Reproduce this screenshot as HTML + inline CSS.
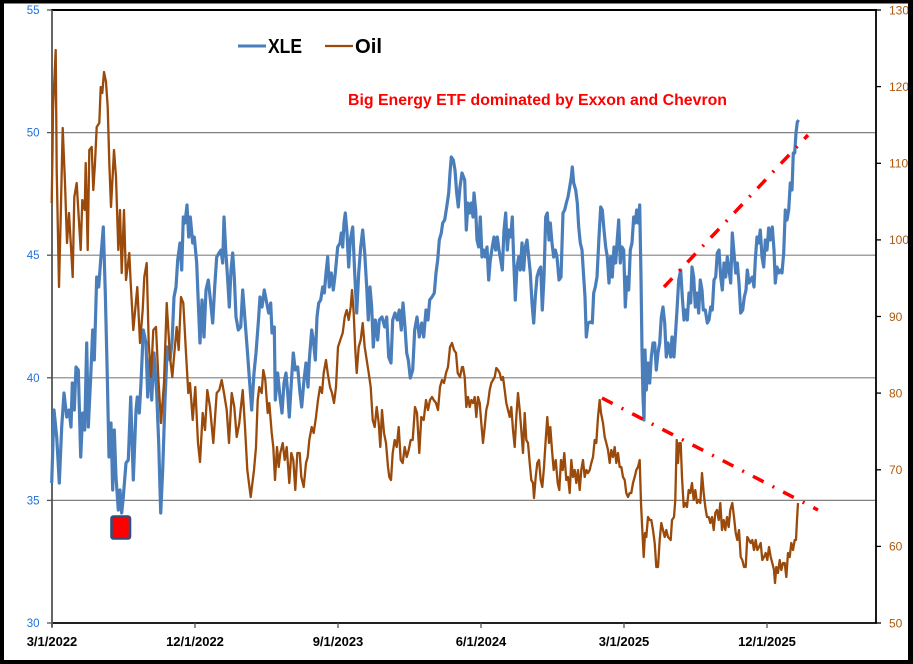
<!DOCTYPE html>
<html><head><meta charset="utf-8"><style>
html,body{margin:0;padding:0;background:#fff;}
svg{display:block;}
text{font-family:"Liberation Sans",Arial,sans-serif;}
</style></head><body>
<svg width="913" height="664" viewBox="0 0 913 664" xmlns="http://www.w3.org/2000/svg">
<rect x="0" y="0" width="913" height="664" fill="#fff"/>
<!-- gridlines -->
<g stroke="#808080" stroke-width="1.2">
<line x1="52" y1="132.6" x2="876" y2="132.6"/>
<line x1="52" y1="255.2" x2="876" y2="255.2"/>
<line x1="52" y1="377.8" x2="876" y2="377.8"/>
<line x1="52" y1="500.4" x2="876" y2="500.4"/>
</g>
<!-- plot frame -->
<line x1="51" y1="10" x2="877" y2="10" stroke="#000" stroke-width="2"/>
<line x1="876" y1="10" x2="876" y2="623" stroke="#000" stroke-width="1.8"/>
<line x1="51" y1="623" x2="877" y2="623" stroke="#000" stroke-width="1.8"/>
<line x1="52" y1="10" x2="52" y2="627" stroke="#555" stroke-width="1.8"/>
<!-- left ticks -->
<g stroke="#555" stroke-width="1.3">
<line x1="47" y1="10" x2="52" y2="10"/><line x1="47" y1="132.6" x2="52" y2="132.6"/>
<line x1="47" y1="255.2" x2="52" y2="255.2"/><line x1="47" y1="377.8" x2="52" y2="377.8"/>
<line x1="47" y1="500.4" x2="52" y2="500.4"/><line x1="47" y1="623" x2="52" y2="623"/>
</g>
<!-- right ticks -->
<g stroke="#000" stroke-width="1.3">
<line x1="876" y1="10" x2="881" y2="10"/><line x1="876" y1="86.6" x2="881" y2="86.6"/>
<line x1="876" y1="163.3" x2="881" y2="163.3"/><line x1="876" y1="239.9" x2="881" y2="239.9"/>
<line x1="876" y1="316.5" x2="881" y2="316.5"/><line x1="876" y1="393.1" x2="881" y2="393.1"/>
<line x1="876" y1="469.8" x2="881" y2="469.8"/><line x1="876" y1="546.4" x2="881" y2="546.4"/>
<line x1="876" y1="623" x2="881" y2="623"/>
</g>
<!-- bottom ticks -->
<g stroke="#555" stroke-width="1.3">
<line x1="52" y1="623" x2="52" y2="628"/><line x1="195" y1="623" x2="195" y2="628"/>
<line x1="338" y1="623" x2="338" y2="628"/><line x1="481" y1="623" x2="481" y2="628"/>
<line x1="624" y1="623" x2="624" y2="628"/><line x1="767" y1="623" x2="767" y2="628"/>
</g>
<!-- left labels -->
<g fill="#1e6ed8" font-size="11.5" text-anchor="end">
<text x="39.5" y="14">55</text><text x="39.5" y="136.6">50</text>
<text x="39.5" y="259.2">45</text><text x="39.5" y="381.8">40</text>
<text x="39.5" y="504.4">35</text><text x="39.5" y="627">30</text>
</g>
<!-- right labels -->
<g fill="#b0580a" font-size="12">
<text x="889" y="14.3">130</text><text x="889" y="90.9">120</text>
<text x="889" y="167.6">110</text><text x="889" y="244.2">100</text>
<text x="889" y="320.8">90</text><text x="889" y="397.4">80</text>
<text x="889" y="474.1">70</text><text x="889" y="550.7">60</text>
<text x="889" y="627.3">50</text>
</g>
<!-- x labels -->
<g fill="#000" font-size="13" font-weight="bold" text-anchor="middle">
<text x="52" y="646">3/1/2022</text><text x="195" y="646">12/1/2022</text>
<text x="338" y="646">9/1/2023</text><text x="481" y="646">6/1/2024</text>
<text x="624" y="646">3/1/2025</text><text x="767" y="646">12/1/2025</text>
</g>
<!-- XLE -->
<polyline fill="none" stroke="#4a7ebb" stroke-width="3.2" stroke-linejoin="round" points="51.7,483 54,410 56.7,437 59.3,483 61.7,427 64,393 66.7,417 69,410 71,427 72.3,383 74.3,410 76,367 78.3,370 80.7,457 82.7,413 84.7,430 86.7,343 88.3,427 90.7,377 92.7,330 94.3,360 96.7,277 98.7,287 100.7,260 103.3,227 105.3,293 107.3,377 109,457 111,423 112.7,490 114.3,430 116,477 118.3,510 120,490 121.7,513 123.3,497 126,463 128.3,460 130.7,397 133.3,480 136,410 137.3,397 139.3,413 141,383 143.3,330 146,343 147.7,397 150,357 151.7,400 154,353 156.7,393 158.7,443 160.7,513 162.7,470 165,400 167.3,347 170,360 172,343 174,297 176,287 177.7,260 180,243 181.7,270 183.3,217 185,223 187,205 188.7,237 190.3,217 192.7,243 194.3,237 196.7,263 198.3,303 200,343 202,300 204,337 206,290 208.3,280 210.7,303 212.7,323 214.7,287 216.7,257 219,253 221,250 222.7,263 224,217 225.7,250 227.7,280 229.3,307 231,270 232.7,253 234.3,277 236,317 238.3,330 240.7,327 242.7,290 245,320 247.3,350 250,387 251.7,410 254,373 256,353 258.7,317 260,297 262,307 264.3,290 266.7,303 268.7,313 270.7,303 272,333 274.3,327 275.3,400 277.7,373 280,397 282,413 284,383 286,373 287.7,393 289.3,417 291.3,383 293.3,353 295.3,370 297.7,367 300,393 301.7,407 304,380 306,363 308,387 309.3,360 311.7,330 313.3,340 315.3,360 317,317 318.7,303 320.7,300 322.7,287 324.3,293 326,273 327.7,257 329.3,287 331.3,273 333.3,290 335.3,273 337.7,247 340,243 341.3,233 342.7,247 344,223 345.3,213 347,233 348.7,267 350.3,240 352.7,227 354.7,273 356.7,313 358.7,273 360.7,247 362.7,230 364.7,253 366.7,287 368.3,320 370,287 371.7,307 373.3,347 375.3,320 377.7,340 379.3,320 382,317 384.7,327 386.7,317 388.7,357 391,363 392.7,320 395,313 397.3,320 399.3,310 401.3,330 403,303 405,327 406.7,353 408.3,360 410.3,378 412.7,370 414.7,330 417,317 419.3,337 421.7,323 423.7,337 426,310 428,320 429.7,300 432,297 434.3,293 436,273 437.7,260 439.3,240 441.3,233 442.7,223 444.7,220 446.7,207 448.7,193 450,173 451.3,157 453.3,160 455,170 456.7,193 458.3,207 460,187 462,173 464.7,180 466.3,230 468,203 469.7,213 471.3,203 473,217 474,193 475.7,210 477,240 478.7,247 480.3,217 482,257 483.7,250 485.3,257 487,247 488.7,280 490.3,260 492.3,247 494,237 495.7,250 497.3,237 499,250 500.7,260 502.3,270 504,230 505.7,213 507.3,250 509,230 510.7,237 512.3,217 513.7,260 515.3,300 517,267 518.7,257 520.3,270 522,243 523.7,270 525.3,247 527,240 528.7,257 530.3,273 532,303 533.7,323 535.3,297 537,277 539,270 540.7,267 542.3,310 544,277 545.7,217 547.3,213 549,240 550.3,223 552,243 553.7,257 555.3,250 557,257 559,280 561,277 563,213 564.7,210 566.3,203 568,197 569.7,187 571.3,177 572.3,167 573.7,183 575.7,190 577.3,203 578.7,227 580.3,243 582,250 583.7,277 585,297 586.3,337 588,323 590.3,322 592.3,323 593.7,293 595.3,287 597,277 599,237 600.7,207 602.3,210 604,230 605.7,247 607.3,257 609,283 610.7,257 612.3,277 614,247 615.7,263 617,243 618.7,220 620.3,263 622,247 623.7,250 625.3,307 627,277 628.7,290 630.3,250 632,243 633.7,217 635.3,223 636.7,210 638.3,223 639.7,205 641,277 642,350 643,397 644,420 645,350 646.3,390 648,363 649.7,383 651.3,357 653,343 654.7,343 656.3,370 658,353 659.7,343 661.3,317 663,307 664.7,323 666.3,357 668,343 670.7,357 672,337 674,357 675.3,337 677,310 678.7,280 680.7,270 682.3,297 684,320 685.7,310 687.3,320 689,293 690.7,303 692,267 693.7,277 695.3,307 697,293 698.7,313 700.3,280 702,290 703.3,310 705.3,310 707.3,323 709,320 710.7,307 712.3,310 714,280 715.7,277 717.3,253 719,250 720.7,277 722.3,290 724,263 725.7,277 727.3,257 729,270 730.7,283 732.3,233 734,253 735.7,273 737.3,263 739,283 740.7,313 742.7,310 744.3,297 746,290 747.3,270 749,283 750.7,280 752.3,277 754,287 755.3,260 757,237 758.7,243 760.3,230 762,257 763.7,267 765.3,240 767,250 768.7,228 770.3,240 772.3,227 774,250 775.3,283 777,267 778.7,273 780.3,270 782,273 783.7,253 785.3,210 787,220 788.7,210 790.3,183 792,190 793.3,153 794.7,153 796,133 797.3,122 798.7,120"/>
<!-- Oil -->
<polyline fill="none" stroke="#9a4a0a" stroke-width="2.3" stroke-linejoin="round" points="51.7,203 52.5,153 53,110 55.7,50 56.7,170 59,287 60.7,217 62.7,128 65,183 67,243 69,213 72.7,277 74.3,197 76.7,183 78.3,210 80.7,250 82.3,200 84.7,210 85.7,163 87.7,250 89.3,150 91.7,147 93.3,190 95,163 96.7,127 99.3,123 100.7,87 102.3,93 104,72 106,82 107.7,107 109.3,163 111,207 114,150 116,177 118.3,250 120,210 121.7,273 124,210 126,280 129.3,253 130.7,283 133.3,330 137.3,287 140,343 142.7,310 144.3,277 146.7,263 148.7,343 151,377 153.3,330 156,327 158.3,377 161,423 164,383 166.7,303 170,357 172.3,377 174,357 176.7,327 178.7,350 181,297 183.3,303 186,353 188.3,393 190,383 192.7,420 195.3,387 198,443 200,462 202.7,413 205,430 207.3,390 210,407 213.3,443 216.7,393 219.3,390 221.7,380 224,393 226.7,410 229,443 231.7,393 234.3,407 236.7,437 239.3,423 242.7,390 245,427 247.3,470 250.7,497 254,470 256,447 257.7,400 259.3,387 261.7,393 263.3,370 265.3,380 267.7,413 269.3,403 271.7,433 273.3,447 275,480 277,447 278.7,467 280.3,453 282.7,443 284.7,460 286.7,447 289.3,483 291.3,453 293.3,460 295.3,490 297.3,453 299.7,453 301.3,477 303.7,487 306,463 307.7,457 309.3,440 311.7,427 313.7,433 316,417 318,400 320,387 322,393 323.7,373 326,360 327.7,373 330,387 332,393 334,403 336,387 338,347 340.3,340 342.7,333 344.7,317 346.7,310 348.7,320 350.7,307 352,290 353.7,313 355.3,350 356.7,373 358.7,347 360.7,340 362.7,323 364.7,347 366.7,360 368.7,373 370.7,387 372.7,420 374.7,427 376.7,407 378.7,423 380.3,447 382,410 384,433 386,443 388,467 389.3,477 391,480 392.7,453 394.7,440 396.7,447 398.7,427 400.7,460 402.7,463 404.7,447 406.7,457 408.7,450 410.7,440 412.7,440 415,407 417,413 419.3,453 421.3,417 423.7,420 426,400 428,410 430,400 432,397 433.7,400 436,403 438,410 440,387 442,380 444,383 446,373 448,367 450,347 452,343 454,350 456,353 457.7,373 460,377 462,367 463,367 464.7,377 466.3,407 468,397 469.7,407 471.3,400 473,403 474.7,397 476.3,417 478,397 479.7,403 481.3,423 483,443 484.7,427 486.3,410 488,403 489.7,390 491.3,383 493,380 494.7,377 496.3,368 498,370 499.7,373 501.3,380 503,377 504.7,390 506.3,403 508,410 509.7,417 511.3,407 513,430 514.7,447 516.3,417 518,393 519.7,410 521.3,430 523,453 524.7,413 526.3,440 528,443 529.7,463 531.3,480 533,483 534,498 535.7,477 537.3,463 539,460 540.7,480 542.3,487 544,467 545.7,440 547.3,417 549,443 550.3,427 552,450 553.7,470 555.7,460 557.7,483 559.3,490 561,460 562.7,470 564.3,453 566.3,480 568,477 569.7,493 571.3,460 573,477 574.7,470 576.3,483 578,470 579.7,490 581.3,470 583,460 584.7,477 586.3,470 588,473 589.7,470 591.3,463 593,457 594.7,440 596.3,443 598,417 599.7,400 601,413 603,423 604.7,437 606.3,443 608,450 609.7,463 611.3,450 613,457 614.7,447 616.3,463 618,453 619.7,467 621.3,467 623,477 624.7,480 626.3,493 628,497 629.7,493 631.3,493 633,483 634.7,477 636.3,470 638,467 639.7,460 641,503 642.3,530 643.7,557 645,533 646.3,537 648,517 649.7,520 651.3,520 653,530 654.7,543 656.3,567 658,567 659.7,540 661.3,523 663,530 664.7,537 666.3,530 668,537 670.7,540 672,520 674,517 675.3,500 676.7,440 678,463 679.3,443 680.7,443 682,477 683.7,507 685.3,503 687,507 688.7,490 690.3,493 692,483 693.7,500 695.3,490 697,503 698.7,500 700.3,503 702,473 703.7,493 705.3,507 707,517 708.7,517 710.3,523 712,517 713.7,530 715.3,513 717,510 718.7,520 720.3,503 722,530 723.7,520 725.3,530 727,517 728.7,527 730.3,510 732.3,503 734,517 735.7,533 737.3,540 739,530 740.7,557 742.3,560 744,567 745.7,567 747.3,537 749,540 750.7,543 752.3,540 754,550 755.7,540 757.3,550 759,547 760.7,543 762.3,560 764,557 765.7,553 767.3,560 769,547 770.7,557 772.3,563 774,570 775,583 776.3,567 778,573 779.7,560 781.3,570 783,563 784.7,563 786.3,577 788,553 789.7,557 791.3,543 793,550 794.7,540 796,540 797,520 798,503"/>
<!-- trend lines -->
<g stroke="#ff0000" stroke-width="3.5" fill="none" stroke-dasharray="12 10 2 10">
<line x1="664" y1="287" x2="808" y2="135"/>
<line x1="602" y1="398" x2="818" y2="510"/>
</g>
<!-- red marker -->
<rect x="111.5" y="516.5" width="18.5" height="22" rx="2" fill="#ff0000" stroke="#2e4f7f" stroke-width="2.6"/>
<!-- legend -->
<line x1="238" y1="46" x2="266" y2="46" stroke="#4a7ebb" stroke-width="3"/>
<text x="268" y="53" font-size="20" font-weight="bold" fill="#000" textLength="34" lengthAdjust="spacingAndGlyphs">XLE</text>
<line x1="325" y1="46" x2="353" y2="46" stroke="#9a4a0a" stroke-width="2.3"/>
<text x="355" y="53" font-size="20" font-weight="bold" fill="#000" textLength="27" lengthAdjust="spacingAndGlyphs">Oil</text>
<!-- annotation -->
<text x="348" y="105" font-size="16" font-weight="bold" fill="#ff0000" textLength="379" lengthAdjust="spacingAndGlyphs">Big Energy ETF dominated by Exxon and Chevron</text>
<!-- outer border -->
<rect x="2" y="1.5" width="909" height="660.5" fill="none" stroke="#000" stroke-width="4"/>
<rect x="908" y="0" width="5" height="664" fill="#000"/>
<rect x="0" y="660" width="913" height="4" fill="#000"/>
</svg>
</body></html>
